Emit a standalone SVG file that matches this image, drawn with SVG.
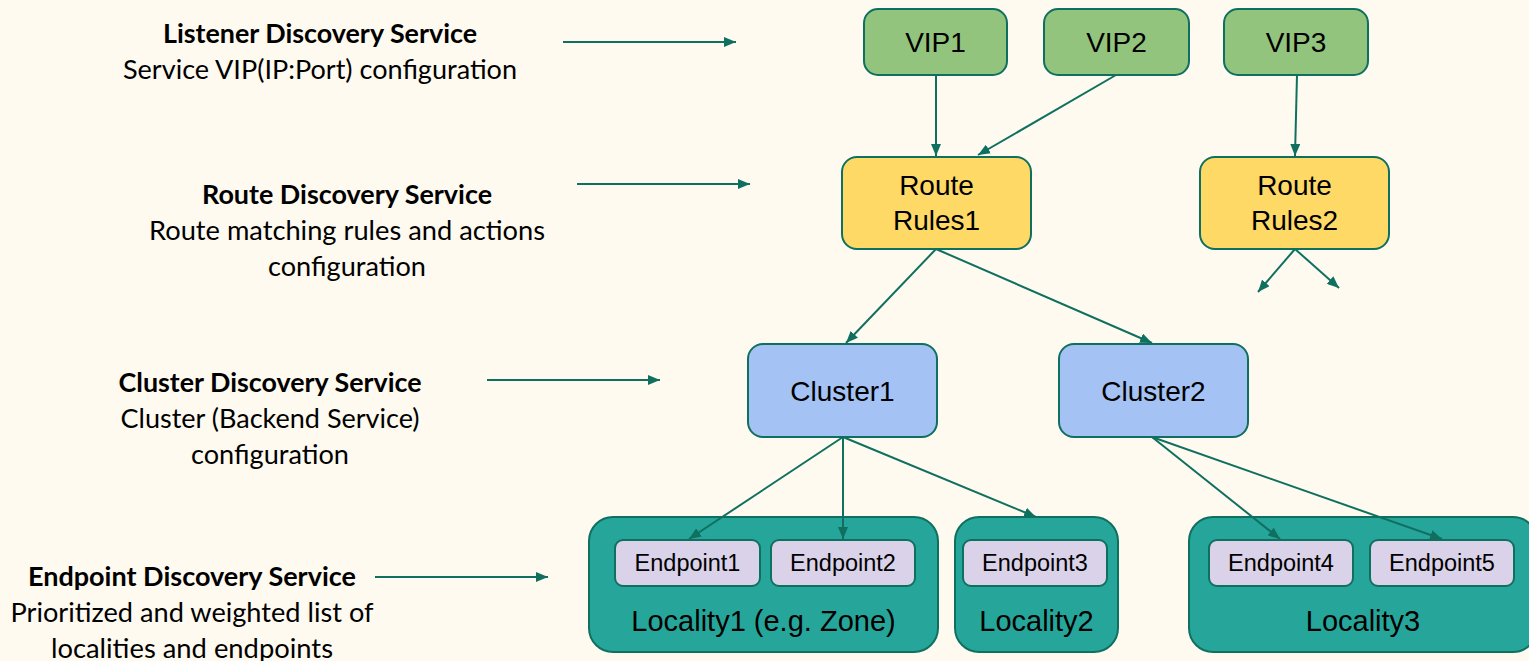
<svg xmlns="http://www.w3.org/2000/svg" width="1529" height="661" viewBox="0 0 1529 661">
<defs>
<marker id="ah" markerUnits="userSpaceOnUse" markerWidth="12" markerHeight="10" refX="12" refY="5" orient="auto">
<path d="M0,0 L12,5 L0,10 z" fill="#0f7060"/>
</marker>
<style>
.lbl{font-family:Lato,"Liberation Sans",sans-serif;font-size:26.5px;fill:#000;text-anchor:middle}
.b{font-weight:bold}
.n{font-family:"Liberation Sans",Arial,sans-serif;font-size:28px;fill:#000;text-anchor:middle}
.l{font-size:29px}
.e{font-family:"Liberation Sans",Arial,sans-serif;font-size:23.5px;fill:#000;text-anchor:middle}
.vip{fill:#93c47d;stroke:#0f7060;stroke-width:2}
.route{fill:#ffd966;stroke:#0f7060;stroke-width:2}
.cl{fill:#a4c2f4;stroke:#0f7060;stroke-width:2}
.loc{fill:#26a69a;stroke:#0f7060;stroke-width:2}
.ep{fill:#d9d2e9;stroke:#0f7060;stroke-width:2}
.c line{stroke:#0f7060;stroke-width:2;marker-end:url(#ah)}
</style>
</defs>
<rect width="1529" height="661" fill="#fffaf0"/>

<g id="labels">
<text class="lbl b" x="320" y="43" textLength="314" lengthAdjust="spacingAndGlyphs">Listener Discovery Service</text>
<text class="lbl" x="320" y="79" textLength="394" lengthAdjust="spacingAndGlyphs">Service VIP(IP:Port) configuration</text>
<text class="lbl b" x="347" y="204" textLength="290" lengthAdjust="spacingAndGlyphs">Route Discovery Service</text>
<text class="lbl" x="347" y="240" textLength="396" lengthAdjust="spacingAndGlyphs">Route matching rules and actions</text>
<text class="lbl" x="347" y="276" textLength="158" lengthAdjust="spacingAndGlyphs">configuration</text>
<text class="lbl b" x="270" y="392" textLength="303" lengthAdjust="spacingAndGlyphs">Cluster Discovery Service</text>
<text class="lbl" x="270" y="428" textLength="299" lengthAdjust="spacingAndGlyphs">Cluster (Backend Service)</text>
<text class="lbl" x="270" y="464" textLength="158" lengthAdjust="spacingAndGlyphs">configuration</text>
<text class="lbl b" x="192" y="586" textLength="328" lengthAdjust="spacingAndGlyphs">Endpoint Discovery Service</text>
<text class="lbl" x="192" y="622" textLength="363" lengthAdjust="spacingAndGlyphs">Prioritized and weighted list of</text>
<text class="lbl" x="192" y="658" textLength="282" lengthAdjust="spacingAndGlyphs">localities and endpoints</text>
</g>

<g id="vip1"><rect class="vip" x="864" y="9" width="143" height="66" rx="14"/><text class="n" x="935.5" y="52">VIP1</text></g>
<g id="vip2"><rect class="vip" x="1044" y="9" width="145" height="66" rx="14"/><text class="n" x="1116.5" y="52">VIP2</text></g>
<g id="vip3"><rect class="vip" x="1224" y="9" width="144" height="66" rx="14"/><text class="n" x="1296" y="52">VIP3</text></g>

<g id="rules1"><rect class="route" x="842" y="157" width="189" height="92" rx="15"/><text class="n" x="936.5" y="195">Route</text><text class="n" x="936.5" y="230">Rules1</text></g>
<g id="rules2"><rect class="route" x="1200" y="157" width="189" height="92" rx="15"/><text class="n" x="1294.5" y="195">Route</text><text class="n" x="1294.5" y="230">Rules2</text></g>

<g id="cluster1"><rect class="cl" x="748" y="344" width="189" height="93" rx="15"/><text class="n" x="842.5" y="401">Cluster1</text></g>
<g id="cluster2"><rect class="cl" x="1059" y="344" width="189" height="93" rx="15"/><text class="n" x="1153.5" y="401">Cluster2</text></g>

<g id="locality1"><rect class="loc" x="589" y="517" width="349" height="135" rx="24"/><text class="n l" x="763.5" y="631">Locality1 (e.g. Zone)</text></g>
<g id="endpoint1"><rect class="ep" x="615" y="540" width="145" height="46" rx="8"/><text class="e" x="687.5" y="571">Endpoint1</text></g>
<g id="endpoint2"><rect class="ep" x="771" y="540" width="144" height="46" rx="8"/><text class="e" x="843" y="571">Endpoint2</text></g>

<g id="locality2"><rect class="loc" x="955" y="517" width="163" height="135" rx="24"/><text class="n l" x="1036.5" y="631">Locality2</text></g>
<g id="endpoint3"><rect class="ep" x="963" y="540" width="144" height="46" rx="8"/><text class="e" x="1035" y="571">Endpoint3</text></g>

<g id="locality3"><rect class="loc" x="1189" y="517" width="348" height="135" rx="24"/><text class="n l" x="1363" y="631">Locality3</text></g>
<g id="endpoint4"><rect class="ep" x="1209" y="540" width="144" height="46" rx="8"/><text class="e" x="1281" y="571">Endpoint4</text></g>
<g id="endpoint5"><rect class="ep" x="1370" y="540" width="144" height="46" rx="8"/><text class="e" x="1442" y="571">Endpoint5</text></g>

<g id="connectors" class="c">
<line x1="563" y1="42" x2="736" y2="42"/>
<line x1="577" y1="184" x2="750" y2="184"/>
<line x1="487" y1="380" x2="660" y2="380"/>
<line x1="375" y1="577" x2="548" y2="577"/>
<line x1="936" y1="75" x2="936" y2="156"/>
<line x1="1116" y1="75" x2="978" y2="155"/>
<line x1="1297" y1="75" x2="1295" y2="156"/>
<line x1="1295" y1="249" x2="1258" y2="292"/>
<line x1="1295" y1="249" x2="1339" y2="288"/>
<line x1="936" y1="249" x2="846" y2="343"/>
<line x1="936" y1="249" x2="1152" y2="343"/>
<line x1="843" y1="437" x2="689" y2="539"/>
<line x1="843" y1="437" x2="843" y2="539"/>
<line x1="843" y1="437" x2="1036" y2="517"/>
<line x1="1152" y1="437" x2="1280" y2="539"/>
<line x1="1152" y1="437" x2="1442" y2="539"/>
</g>
</svg>
